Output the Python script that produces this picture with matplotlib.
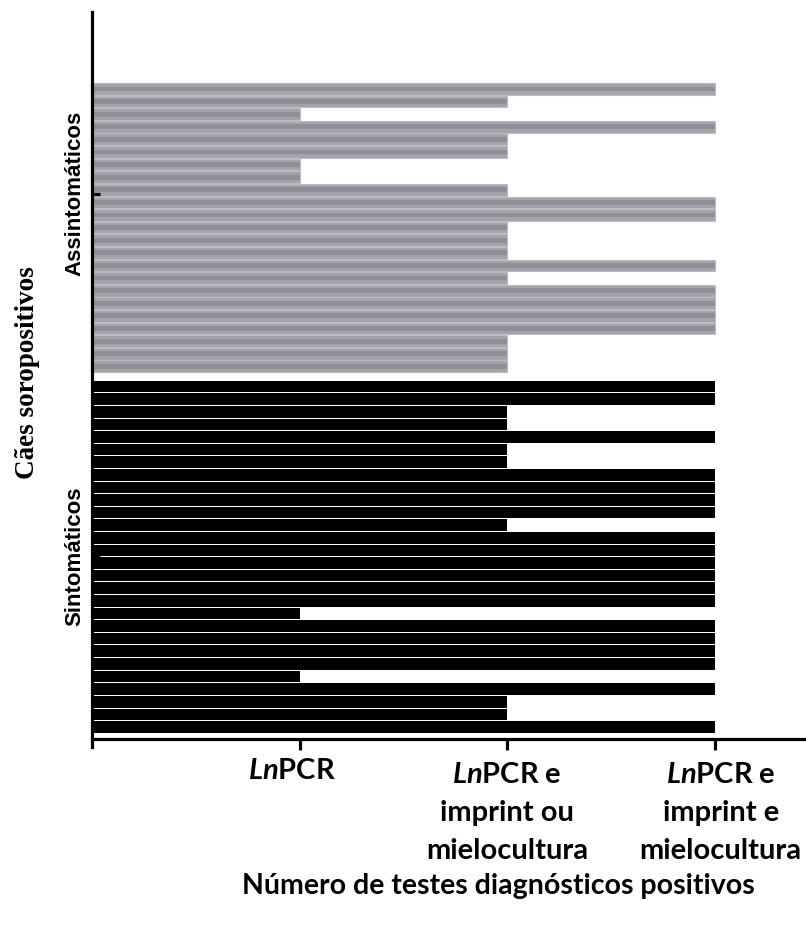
import matplotlib
matplotlib.use("Agg")
import matplotlib.pyplot as plt
import matplotlib.transforms as mtransforms
import numpy as np

# number of positive tests per dog, listed top to bottom as in the figure
assintomaticos = [3, 2, 1, 3, 2, 2, 1, 1, 2, 3, 3, 2, 2, 2, 3, 2, 3, 3, 3, 3, 2, 2, 2]
sintomaticos = [3, 3, 2, 2, 3, 2, 2, 3, 3, 3, 3, 2, 3, 3, 3, 3, 3, 3, 1, 3, 3, 3, 3, 1, 3, 2, 2, 3]

group_labels = ["Assintomáticos", "Sintomáticos"]
x_tick_labels = [
    r"$\mathbfit{Ln}$PCR",
    "$\\mathbfit{Ln}$PCR e\nimprint ou\nmielocultura",
    "$\\mathbfit{Ln}$PCR e\nimprint e\nmielocultura",
]
x_label = "Número de testes diagnósticos positivos"
y_label = "Cães soropositivos"

plt.rcParams["mathtext.fontset"] = "custom"
plt.rcParams["mathtext.bfit"] = "Lato:bold:italic"
plt.rcParams["mathtext.rm"] = "Lato:bold"

fig = plt.figure(figsize=(8.06, 9.26), dpi=100)
ax = fig.add_axes([92 / 806, 1 - 747 / 926, 1 - 92 / 806, (747 - 12) / 926])

# row positions: symptomatic rows at the bottom, a small gap, then asymptomatic rows
n_s = len(sintomaticos)
n_a = len(assintomaticos)
y_s = np.arange(n_s, 0, -1, dtype=float)
y_a = n_s + 0.6 + np.arange(n_a, 0, -1, dtype=float)

ax.barh(y_a, assintomaticos, height=0.93, color="#a3a3ab", edgecolor="#bcbcc2", linewidth=0.8, zorder=1)
ax.barh(y_a, assintomaticos, height=0.38, color="#8f8f97", linewidth=0, zorder=1.1)
ax.barh(y_s, sintomaticos, height=0.92, color="black", linewidth=0, zorder=1)

ax.set_xlim(0, 3.44)
ax.set_ylim(-0.59, 57.7)

for s in ["top", "right"]:
    ax.spines[s].set_visible(False)
ax.spines["left"].set_linewidth(2.3)
ax.spines["bottom"].set_linewidth(2.3)
ax.spines["bottom"].set_position(("data", 0.05))

ax.set_xticks([1, 2, 3])
ax.set_xticklabels(x_tick_labels, fontfamily="Lato", fontweight="bold", fontsize=21,
                   linespacing=1.57, va="top")
ax.tick_params(axis="x", direction="out", length=8, width=2.3, pad=6)

# small nudges so the labels sit where they do in the original
nudges = [(-8, 0), (0, -4), (6, -4)]
for lab, (dx, dy) in zip(ax.get_xticklabels(), nudges):
    off = mtransforms.ScaledTranslation(dx / 100, dy / 100, fig.dpi_scale_trans)
    lab.set_transform(lab.get_transform() + off)

ax.set_yticks([43.3, 14.5])
ax.set_yticklabels(group_labels, rotation=90, va="center", fontfamily="Liberation Sans",
                   fontweight="bold", fontsize=16)
ax.tick_params(axis="y", direction="in", length=6, width=2.3, pad=5)

ax.set_xlabel(x_label, fontfamily="Lato", fontweight="bold", fontsize=20.5)
ax.xaxis.set_label_coords((498 - 92) / 714, (747 - 873) / 735)
ax.set_ylabel(y_label, fontfamily="Liberation Serif", fontweight="bold", fontsize=19.5)
ax.yaxis.set_label_coords((40 - 92) / 714, (747 - 373) / 735)

fig.savefig("out.png", dpi=100)
